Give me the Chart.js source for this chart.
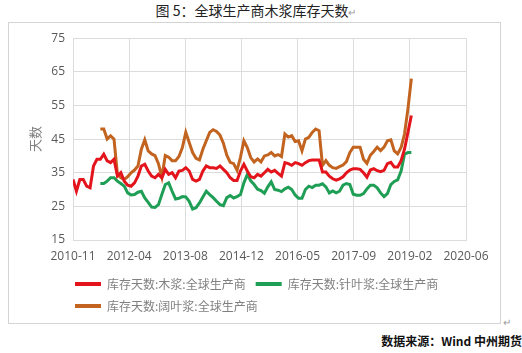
<!DOCTYPE html>
<html>
<head>
<meta charset="utf-8">
<script src="https://cdn.jsdelivr.net/npm/chart.js@4"></script>
<style>
  body { margin: 0; background: #fff; width: 522px; height: 353px; position: relative; overflow: hidden; font-family: "Noto Sans CJK SC", sans-serif; }
  #title { position: absolute; top: 0; left: 0; width: 512px; text-align: center; font-size: 14px; color: #222; }
  #title span, .ret { color: #999; font-size: 10px; }
  #box { position: absolute; left: 8px; top: 22px; width: 491px; height: 300px; border: 1px solid #d4d4d4; }
  #chart { position: absolute; left: 0; top: 0; }
  #ret2 { position: absolute; left: 503px; top: 314px; }
  #source { position: absolute; right: 0; top: 332px; font-size: 12px; font-weight: bold; color: #111; }
</style>
</head>
<body>
<div id="title">图 5：全球生产商木浆库存天数<span>↵</span></div>
<div id="box"><canvas id="chart" width="490" height="299"></canvas></div>
<div id="ret2" class="ret">↵</div>
<div id="source">数据来源：Wind 中州期货</div>
<script>
// months counted from 2010-11 (0) to 2019-02 (99)
const months = Array.from({ length: 100 }, (_, i) => i);

const seriesNames = ["库存天数:木浆:全球生产商", "库存天数:针叶浆:全球生产商", "库存天数:阔叶浆:全球生产商"];

const pulpDays = [
  33, 29.5, 33, 33, 31, 30.5, 37, 39, 39, 40.5,
  38.5, 38, 39, 34, 35, 32.5, 31.3, 31, 32, 34,
  37, 37.5, 35.5, 34, 33.5, 34.5, 33.5, 36, 34.5, 35,
  33.5, 35.5, 35.7, 36.5, 35.5, 33, 32.5, 33, 35.5, 37,
  36.5, 36.5, 36.3, 37, 36, 35, 33.5, 32.7, 32.7, 35.5,
  37.5, 35.5, 33.8, 33.5, 34.5, 34, 35, 36, 35.2, 35.7,
  34.8, 34, 38, 37.7, 37.2, 38, 37.7, 37.2, 38, 38.6,
  38.8, 38.8, 38.8, 35.2, 35.2, 34, 33.2, 32.8, 33.2, 33.8,
  35, 35.8, 36.2, 36.2, 36, 35, 33.7, 35.8, 36.2, 35.6,
  35.3, 35.7, 37.7, 38.1, 36.7, 36.7, 38.6, 42, 47, 52
];

const softwoodDays = [
  null, null, null, null, null, null, null, null, 31.8, 31.8,
  32.5, 33.5, 33.5, 32.5, 31.8, 31, 29, 28.4, 28.5, 29.2,
  29.5, 27.5, 26.2, 24.8, 24.7, 25.5, 28.5, 31.5, 32, 29.5,
  27.2, 27.4, 27.9, 27.8, 26.5, 24.2, 24.6, 26, 27.8, 29.5,
  28.5, 27.6, 26.5, 25.5, 25.2, 27.6, 28.2, 27.5, 27.9, 28.5,
  32, 34.5, 32.6, 31.5, 30.1, 29.7, 28.9, 30.8, 32.3, 30,
  29.8, 29.4, 30.2, 30.7, 30, 28.4, 27.4, 27.4, 30, 31,
  30.6, 31.3, 31.3, 31.7, 30.8, 29, 29.6, 29, 29.5, 31.3,
  31.8, 31.5, 28.6, 28.3, 28.3, 28.8, 30.2, 31.3, 31.3, 30.5,
  29, 27.9, 28.8, 31.5, 32.4, 32.9, 35.5, 40.5, 41, 41
];

const hardwoodDays = [
  null, null, null, null, null, null, null, null, 48, 48,
  45, 46, 45, 34.5, 33.5, 33, 33.8, 35, 35.8, 37,
  42, 44.8, 41.5, 40.6, 40.1, 37.7, 33.7, 40.1, 39.6, 38.6,
  38.6, 39.8, 42.5, 47, 44, 41, 39.3, 38.8, 42, 44.5,
  47, 47.8, 47.3, 46.2, 43.8, 40.2, 38.1, 37.7, 35.7, 39.6,
  44.5, 42.5, 39.5, 38.2, 39.1, 38.2, 40, 40.3, 41, 40,
  40.4, 39.8, 46.5, 45.6, 46, 44.3, 44.5, 41.5, 45, 45.5,
  47, 48, 47.5, 37.2, 38.6, 37.2, 36.5, 36.3, 36.8, 37.3,
  38.3, 41, 42.6, 42.6, 42.6, 39, 37.8, 40.2, 41.3, 42.6,
  41.6, 42.6, 44.5, 44.8, 41.5, 40.6, 42.5, 46.5, 54, 63
];

const xTickLabels = ["2010-11", "2012-04", "2013-08", "2014-12", "2016-05", "2017-09", "2019-02", "2020-06"];
const xTickStep = 500 / 30.4375; // 500-day major unit, in months
const yTicks = [15, 25, 35, 45, 55, 65, 75];

const colors = ["#e3141c", "#1f9e55", "#c2641f"];

const tickFont = { family: "'Open Sans', 'Noto Sans', sans-serif", size: 12 };
const cjkFont = { family: "'Noto Sans CJK SC', sans-serif", size: 12 };

// pull the legend a little to the left, under the y axis line
const legendShift = {
  id: "legendShift",
  afterLayout(chart) { chart.legend.left -= 8; }
};

new Chart(document.getElementById("chart"), {
  type: "line",
  data: {
    labels: months,
    datasets: [pulpDays, softwoodDays, hardwoodDays].map((d, k) => ({
      label: seriesNames[k],
      data: d,
      borderColor: colors[k],
      backgroundColor: colors[k],
      borderWidth: 3,
      pointRadius: 0,
      tension: 0
    }))
  },
  options: {
    responsive: false,
    animation: false,
    layout: { padding: { left: 8, right: 33, top: 13, bottom: 0 } },
    scales: {
      x: {
        type: "linear",
        min: 0,
        max: xTickStep * (xTickLabels.length - 1),
        afterBuildTicks: (scale) => {
          scale.ticks = xTickLabels.map((_, k) => ({ value: k * xTickStep }));
        },
        afterFit: (scale) => { scale.height = 28; },
        ticks: {
          autoSkip: false,
          maxRotation: 0,
          padding: 9,
          color: "#595959",
          font: tickFont,
          callback: (value, index) => xTickLabels[index]
        },
        grid: { color: "#dcdcdc", drawTicks: false },
        border: { color: "#dcdcdc" }
      },
      y: {
        min: yTicks[0],
        max: yTicks[yTicks.length - 1],
        afterFit: (scale) => { scale.width = 56; },
        ticks: { stepSize: 10, padding: 8, color: "#595959", font: tickFont },
        grid: { color: "#dcdcdc", drawTicks: false },
        border: { color: "#dcdcdc" },
        title: {
          display: true,
          text: "天数",
          color: "#7f7f7f",
          font: { family: "'Noto Sans CJK SC', sans-serif", size: 13 },
          padding: { top: 10, bottom: 0 }
        }
      }
    },
    plugins: {
      legend: {
        position: "bottom",
        align: "start",
        fullSize: false,
        labels: {
          boxWidth: 26,
          boxHeight: 4,
          padding: 10,
          color: "#808080",
          font: cjkFont,
          generateLabels: (chart) =>
            Chart.defaults.plugins.legend.labels.generateLabels(chart).map(l => ({ ...l, lineWidth: 0 }))
        }
      },
      tooltip: { enabled: false }
    }
  },
  plugins: [legendShift]
});
</script>
</body>
</html>
